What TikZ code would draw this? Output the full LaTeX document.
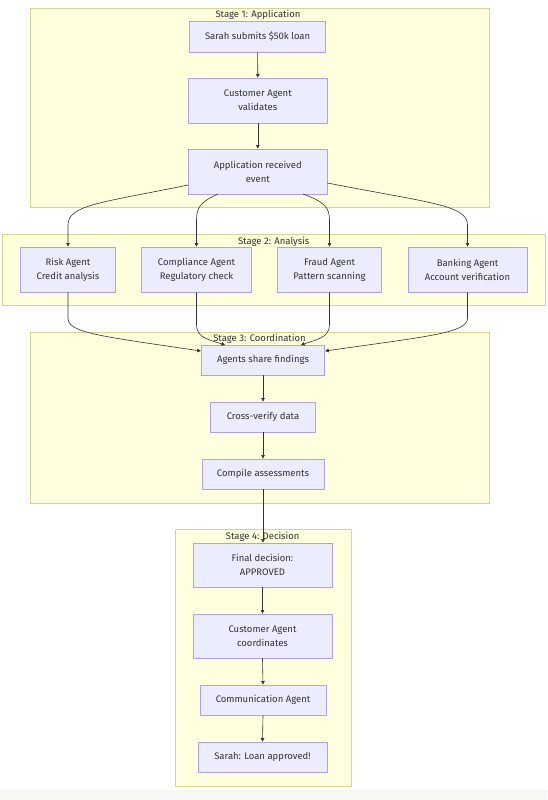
\documentclass[tikz,border=0pt]{standalone}
\usepackage{fontspec}
\setmainfont{Fira Sans}
\usetikzlibrary{arrows.meta}
\definecolor{clfill}{HTML}{FFFFDE}
\definecolor{cldraw}{HTML}{D6D690}
\definecolor{ndfill}{HTML}{ECECFF}
\definecolor{nddraw}{HTML}{B4A0EA}
\definecolor{txt}{HTML}{333333}
\definecolor{ln}{HTML}{333333}
\definecolor{strip}{HTML}{F7F7F5}
\newcommand{\fs}{\fontsize{9.5}{14}\selectfont}
\tikzset{
  box/.style={draw=nddraw, fill=ndfill, line width=0.8pt, inner sep=0pt, align=center, font=\fs, text=txt},
  cluster/.style={draw=cldraw, fill=clfill, line width=0.8pt},
  ctitle/.style={font=\fs, text=txt, inner sep=0pt},
  edge/.style={draw=ln, line width=0.6pt, -{Triangle[length=3.6pt,width=3.6pt]}},
}
\begin{document}
\begin{tikzpicture}[x=1pt,y=-1pt]
\useasboundingbox (0,0) rectangle (547,800);
\fill[white] (0,0) rectangle (547,800);
\fill[strip] (0,790) rectangle (547,800);
% clusters
\draw[cluster] (30.4,8) rectangle (489,207);
\draw[cluster] (2.4,234) rectangle (545.5,305);
\draw[cluster] (30.4,332) rectangle (489,503);
\draw[cluster] (175,529) rectangle (351,786);
\node[ctitle] (t1) at (258,15) {Stage 1: Application};
\node[ctitle] (t2) at (273.7,242) {Stage 2: Analysis};
\node[ctitle] (t3) at (259.5,339) {Stage 3: Coordination};
\node[ctitle] (t4) at (262.7,537) {Stage 4: Decision};
% nodes
\node[box, minimum width=135.8, minimum height=31] (n1) at (257.6,36.5) {Sarah submits \$50k loan};
\node[box, minimum width=138.4, minimum height=45] (n2) at (257.8,100.5) {Customer Agent\\validates};
\node[box, minimum width=138.4, minimum height=45] (n3) at (257.8,171.5) {Application received\\event};
\node[box, minimum width=95.3, minimum height=45] (r) at (68,269.5) {Risk Agent\\Credit analysis};
\node[box, minimum width=109.3, minimum height=45] (c) at (196.5,269.5) {Compliance Agent\\Regulatory check};
\node[box, minimum width=103.7, minimum height=45] (f) at (329.5,269.5) {Fraud Agent\\Pattern scanning};
\node[box, minimum width=119, minimum height=45] (b) at (467.5,269.5) {Banking Agent\\Account verification};
\node[box, minimum width=123.6, minimum height=30] (s1) at (263,360) {Agents share findings};
\node[box, minimum width=105, minimum height=30] (s2) at (263,417) {Cross-verify data};
\node[box, minimum width=122.2, minimum height=30] (s3) at (263,474) {Compile assessments};
\node[box, minimum width=139, minimum height=44] (d1) at (262.5,565) {Final decision:\\APPROVED};
\node[box, minimum width=139, minimum height=44] (d2) at (262.5,636) {Customer Agent\\coordinates};
\node[box, minimum width=126, minimum height=30] (d3) at (263,700) {Communication Agent};
\node[box, minimum width=129, minimum height=30] (d4) at (262.5,757) {Sarah: Loan approved!};
% edges
\draw[edge] (n1.south) -- (n2.north);
\draw[edge] (n2.south) -- (n3.north);
\draw[edge] (n3.west |- 0,185) .. controls (100,203) and (68,205) .. (68,225) -- (r.north);
\draw[edge] (218,194) .. controls (200,202) and (196.5,208) .. (196.5,220) -- (c.north);
\draw[edge] (303,194) .. controls (325,202) and (329.5,208) .. (329.5,220) -- (f.north);
\draw[edge] (n3.east |- 0,183) .. controls (430,203) and (467.5,205) .. (467.5,225) -- (b.north);
\draw[edge] (r.south) -- (68,318) .. controls (68,333) and (100,336) .. (s1.west |- 0,351);
\draw[edge] (c.south) -- (196.5,325) .. controls (196.5,338) and (210,340) .. (225,345);
\draw[edge] (f.south) -- (329.5,325) .. controls (329.5,338) and (315,340) .. (301,345);
\draw[edge] (b.south) -- (467.5,318) .. controls (467.5,333) and (430,336) .. (s1.east |- 0,351);
\draw[edge] (s1.south) -- (s2.north);
\draw[edge] (s2.south) -- (s3.north);
\draw[edge] (s3.south) -- (s3.south |- d1.north);
\draw[edge] (d1.south) -- (d2.north);
\draw[edge] (d2.south) -- (d3.north);
\draw[edge] (d3.south) -- (d4.north);
\end{tikzpicture}
\end{document}
